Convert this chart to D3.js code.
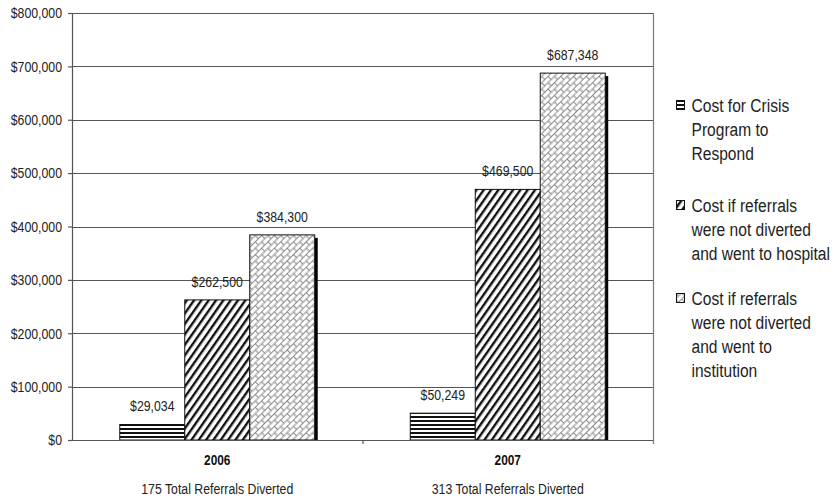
<!DOCTYPE html>
<html>
<head>
<meta charset="utf-8">
<script src="https://cdn.jsdelivr.net/npm/d3@7"></script>
<style>
  html, body { margin: 0; padding: 0; background: #fff; }
  svg { display: block; font-family: "Liberation Sans", Arial, sans-serif; }
</style>
</head>
<body>
<svg id="chart" width="834" height="501"></svg>
<script>
// Years compared and the referral totals shown beneath each
const years = ["2006", "2007"];
const referralNotes = ["175 Total Referrals Diverted", "313 Total Referrals Diverted"];

// Cost series (one value per year)
const seriesNames = ["crisis", "hospital", "institution"];
const crisisCost = [29034, 50249];
const hospitalCost = [262500, 469500];
const institutionCost = [384300, 687348];

// Value labels as printed above the bars
const crisisLabels = ["$29,034", "$50,249"];
const hospitalLabels = ["$262,500", "$469,500"];
const institutionLabels = ["$384,300", "$687,348"];

// Legend text, one array of lines per series
const legendLines = [
  ["Cost for Crisis", "Program to", "Respond"],
  ["Cost if referrals", "were not diverted", "and went to hospital"],
  ["Cost if referrals", "were not diverted", "and went to", "institution"]
];

const yTicks = [0, 100000, 200000, 300000, 400000, 500000, 600000, 700000, 800000];

const svg = d3.select("#chart");
const plotLeft = 72, plotRight = 653, plotTop = 13, plotBottom = 440;
// Narrow lettering: glyphs are squeezed horizontally to this share of their width
const narrow = 0.82;

// Fill patterns
const defs = svg.append("defs");
const pStripe = defs.append("pattern").attr("id", "pat-crisis")
  .attr("patternUnits", "userSpaceOnUse").attr("width", 8).attr("height", 4);
pStripe.append("rect").attr("width", 8).attr("height", 4).attr("fill", "#fff");
pStripe.append("rect").attr("y", 0).attr("width", 8).attr("height", 2).attr("fill", "#111");

const pDiag = defs.append("pattern").attr("id", "pat-hospital")
  .attr("patternUnits", "userSpaceOnUse").attr("width", 6).attr("height", 6)
  .attr("patternTransform", "rotate(35)");
pDiag.append("rect").attr("width", 6).attr("height", 6).attr("fill", "#fff");
pDiag.append("rect").attr("x", 0).attr("width", 2.4).attr("height", 6).attr("fill", "#111");

const pBrick = defs.append("pattern").attr("id", "pat-institution")
  .attr("patternUnits", "userSpaceOnUse").attr("width", 9).attr("height", 9)
  .attr("patternTransform", "rotate(-45)");
pBrick.append("rect").attr("width", 9).attr("height", 9).attr("fill", "#fff");
pBrick.append("path")
  .attr("d", "M0,0.5H9 M0,5H9 M0.5,0.5V5 M5,5V9.5")
  .attr("stroke", "#8a8a8a").attr("stroke-width", 1.1).attr("fill", "none");

const fills = { crisis: "url(#pat-crisis)", hospital: "url(#pat-hospital)", institution: "url(#pat-institution)" };

// Scales
const y = d3.scaleLinear().domain([0, 800000]).range([plotBottom, plotTop]);
const x0 = d3.scaleBand().domain(years).range([plotLeft, plotRight]).padding(0);
const x1 = d3.scaleBand().domain(seriesNames).range([0, x0.bandwidth()])
  .paddingInner(0).paddingOuter(0.735);

// Gridlines
svg.append("g").selectAll("line").data(yTicks.filter(d => d > 0)).join("line")
  .attr("x1", plotLeft).attr("x2", plotRight)
  .attr("y1", d => Math.round(y(d)) + 0.5).attr("y2", d => Math.round(y(d)) + 0.5)
  .attr("stroke", "#555").attr("stroke-width", 1.2);

// Right border of the plot area
svg.append("line").attr("x1", plotRight + 0.5).attr("x2", plotRight + 0.5)
  .attr("y1", plotTop).attr("y2", plotBottom + 4)
  .attr("stroke", "#777").attr("stroke-width", 1.2);

// Y axis
const yAxis = d3.axisLeft(y).tickValues(yTicks).tickSize(4).tickPadding(6)
  .tickFormat(d => "$" + d3.format(",")(d));
const gy = svg.append("g").attr("transform", `translate(${plotLeft},0)`).call(yAxis);
gy.attr("font-family", null).attr("font-size", null);
gy.select(".domain").attr("stroke", "#555").attr("stroke-width", 1.2);
gy.selectAll(".tick line").attr("stroke", "#555").attr("stroke-width", 1.2);
gy.selectAll(".tick text").attr("font-size", 15).attr("fill", "#222");

// Bars, drawn year by year so each bar covers the shadow of the one before it
const rows = [];
years.forEach((yr, i) => {
  rows.push({ year: yr, key: "crisis", value: crisisCost[i], label: crisisLabels[i] });
  rows.push({ year: yr, key: "hospital", value: hospitalCost[i], label: hospitalLabels[i] });
  rows.push({ year: yr, key: "institution", value: institutionCost[i], label: institutionLabels[i] });
});

const barG = svg.append("g");
rows.forEach(r => {
  const bx = x0(r.year) + x1(r.key);
  const bw = x1.bandwidth();
  barG.append("rect")
    .attr("x", bx + 3).attr("y", y(r.value) + 3)
    .attr("width", bw).attr("height", plotBottom - y(r.value) - 3)
    .attr("fill", "#000");
  barG.append("rect")
    .attr("x", bx).attr("y", y(r.value))
    .attr("width", bw).attr("height", plotBottom - y(r.value))
    .attr("fill", fills[r.key]).attr("stroke", "#111").attr("stroke-width", 1);
});

// X axis
const gx = svg.append("g").attr("transform", `translate(0,${plotBottom})`);
gx.append("line").attr("x1", plotLeft).attr("x2", plotRight).attr("y1", 0.5).attr("y2", 0.5)
  .attr("stroke", "#555").attr("stroke-width", 1.2);
gx.append("line").attr("x1", x0("2007") + 0.5).attr("x2", x0("2007") + 0.5)
  .attr("y1", 0).attr("y2", 4).attr("stroke", "#555").attr("stroke-width", 1.2);
gx.selectAll("text.year").data(years).join("text").attr("class", "year")
  .attr("x", d => x0(d) + x0.bandwidth() / 2).attr("y", 25.5)
  .attr("text-anchor", "middle").attr("font-size", 14.5).attr("font-weight", "bold")
  .attr("fill", "#111").text(d => d);
gx.selectAll("text.note").data(years).join("text").attr("class", "note")
  .attr("x", d => x0(d) + x0.bandwidth() / 2).attr("y", 54.5)
  .attr("text-anchor", "middle").attr("font-size", 15)
  .attr("fill", "#222").text((d, i) => referralNotes[i]);

// Value labels
svg.append("g").selectAll("text").data(rows).join("text")
  .attr("x", d => x0(d.year) + x1(d.key) + x1.bandwidth() / 2)
  .attr("y", d => y(d.value) - 13)
  .attr("text-anchor", "middle").attr("font-size", 15).attr("fill", "#222")
  .text(d => d.label);

// Legend
const legendTop = [106, 206, 299];
const lineH = 23.7;
const lg = svg.append("g");
seriesNames.forEach((key, i) => {
  lg.append("rect").attr("x", 676.5).attr("y", legendTop[i] - 5.5)
    .attr("width", 8).attr("height", 9)
    .attr("fill", fills[key]).attr("stroke", "#111").attr("stroke-width", 1);
  legendLines[i].forEach((ln, j) => {
    lg.append("text").attr("x", 691.5).attr("y", legendTop[i] + j * lineH + 6.5)
      .attr("font-size", 19).attr("fill", "#222").text(ln);
  });
});

// Condense every label to a narrow face, squeezing around its anchor point
svg.selectAll("text").each(function () {
  const t = d3.select(this);
  const ax = +t.attr("x") || 0;
  t.attr("x", 0).attr("transform", `translate(${ax},0) scale(${narrow},1)`);
});
</script>
</body>
</html>
